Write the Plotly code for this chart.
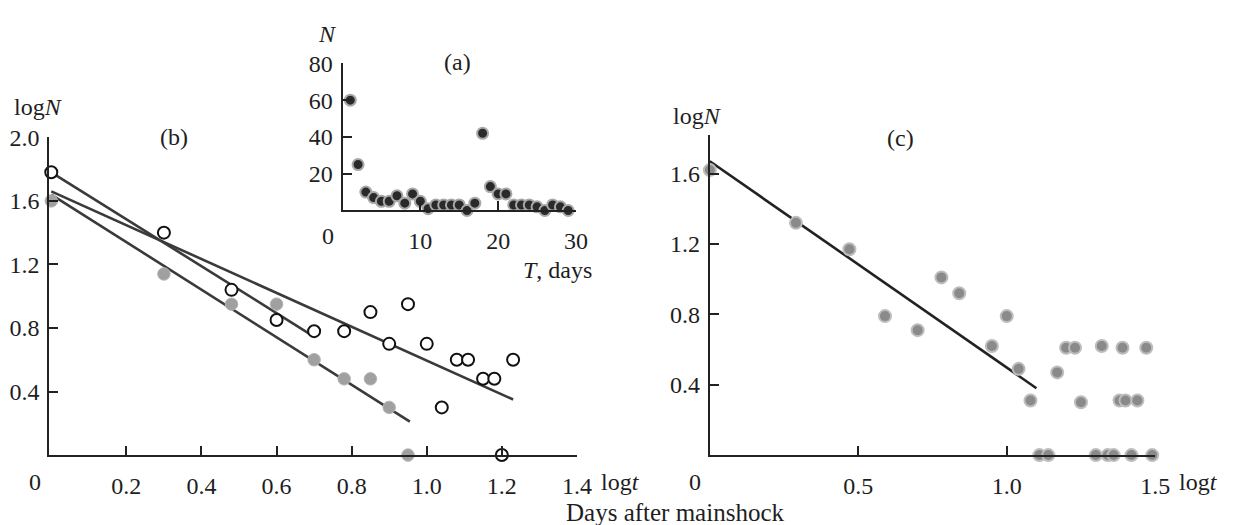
import plotly.graph_objects as go

W, H = 1243, 525
FONT = "Liberation Serif"
TXT = "#1e1e1e"
FS = 24

# ---------------- data ----------------
# panel (b): log t vs log N
b_open_logt = [0.0, 0.30, 0.48, 0.60, 0.70, 0.78, 0.85, 0.90, 0.95, 1.00, 1.04, 1.08, 1.11, 1.15, 1.18, 1.20, 1.23]
b_open_logN = [1.78, 1.40, 1.04, 0.85, 0.78, 0.78, 0.90, 0.70, 0.95, 0.70, 0.30, 0.60, 0.60, 0.48, 0.48, 0.0, 0.60]
b_gray_logt = [0.0, 0.30, 0.48, 0.60, 0.70, 0.78, 0.85, 0.90, 0.95]
b_gray_logN = [1.60, 1.14, 0.95, 0.95, 0.60, 0.48, 0.48, 0.30, 0.0]
b_fit_all_x = [0.0, 1.23]
b_fit_all_y = [1.66, 0.35]
b_fit_open_x = [0.0, 0.69]
b_fit_open_y = [1.78, 0.76]
b_fit_gray_x = [0.0, 0.955]
b_fit_gray_y = [1.64, 0.21]
b_xticks = [0.2, 0.4, 0.6, 0.8, 1.0, 1.2, 1.4]
b_xlabels = ["0.2", "0.4", "0.6", "0.8", "1.0", "1.2", "1.4"]
b_yticks = [0.4, 0.8, 1.2, 1.6, 2.0]
b_ylabels = ["0.4", "0.8", "1.2", "1.6", "2.0"]

# panel (a) inset: days vs N
a_T = list(range(1, 30))
a_N = [60, 25, 10, 7, 5, 5, 8, 4, 9, 5, 1, 3, 3, 3, 3, 0, 4, 42, 13, 9, 9, 3, 3, 3, 2, 0, 3, 2, 0]
a_xticks = [10, 20, 30]
a_xlabels = ["10", "20", "30"]
a_yticks = [20, 40, 60, 80]
a_ylabels = ["20", "40", "60", "80"]

# panel (c)
c_logt = [0.0, 0.29, 0.47, 0.59, 0.70, 0.78, 0.84, 0.95, 1.00, 1.04, 1.08, 1.11, 1.14, 1.17,
          1.20, 1.23, 1.25, 1.30, 1.32, 1.34, 1.36, 1.38, 1.39, 1.40, 1.42, 1.44, 1.47, 1.49]
c_logN = [1.62, 1.32, 1.17, 0.79, 0.71, 1.01, 0.92, 0.62, 0.79, 0.49, 0.31, 0.0, 0.0, 0.47,
          0.61, 0.61, 0.30, 0.0, 0.62, 0.0, 0.0, 0.31, 0.61, 0.31, 0.0, 0.31, 0.61, 0.0]
c_fit_x = [0.0, 1.10]
c_fit_y = [1.67, 0.38]
c_xticks = [0.5, 1.0, 1.5]
c_xlabels = ["0.5", "1.0", "1.5"]
c_yticks = [0.4, 0.8, 1.2, 1.6]
c_ylabels = ["0.4", "0.8", "1.2", "1.6"]


def px(x):
    return x / W


def py(y):
    return 1 - y / H


fig = go.Figure()

LINE_C = "#3a3a3a"
# panel (b)
for fx, fy in [(b_fit_all_x, b_fit_all_y), (b_fit_open_x, b_fit_open_y), (b_fit_gray_x, b_fit_gray_y)]:
    fig.add_trace(go.Scatter(x=fx, y=fy, mode="lines", line=dict(color=LINE_C, width=2.6),
                             xaxis="x", yaxis="y", cliponaxis=False, showlegend=False))
fig.add_trace(go.Scatter(x=b_gray_logt, y=b_gray_logN, mode="markers",
                         marker=dict(color="#a0a0a0", size=12.5, line=dict(color="#b5b5b5", width=1)),
                         xaxis="x", yaxis="y", cliponaxis=False, showlegend=False))
fig.add_trace(go.Scatter(x=b_open_logt, y=b_open_logN, mode="markers",
                         marker=dict(color="white", size=12, line=dict(color="#111111", width=2)),
                         xaxis="x", yaxis="y", cliponaxis=False, showlegend=False))

# panel (c)
fig.add_trace(go.Scatter(x=c_fit_x, y=c_fit_y, mode="lines", line=dict(color="#222222", width=2.6),
                         xaxis="x3", yaxis="y3", cliponaxis=False, showlegend=False))
fig.add_trace(go.Scatter(x=c_logt, y=c_logN, mode="markers",
                         marker=dict(color="#8a8a8a", size=12, line=dict(color="#bdbdbd", width=2)),
                         xaxis="x3", yaxis="y3", cliponaxis=False, showlegend=False))

# inset (a)
fig.add_trace(go.Scatter(x=a_T, y=a_N, mode="markers",
                         marker=dict(color="#2a2a2a", size=11, line=dict(color="#a8a8a8", width=2)),
                         xaxis="x2", yaxis="y2", cliponaxis=False, showlegend=False))

fig.update_layout(
    width=W, height=H,
    margin=dict(l=0, r=0, t=0, b=0),
    paper_bgcolor="white", plot_bgcolor="rgba(0,0,0,0)",
    font=dict(family=FONT, size=FS, color=TXT),
    showlegend=False,
    xaxis=dict(domain=[px(50), px(584)], range=[-0.005, 1.4], anchor="y",
               tickvals=b_xticks, ticktext=b_xlabels),
    yaxis=dict(domain=[py(453.3), py(127.5)], range=[0, 2.0], anchor="x",
               tickvals=b_yticks, ticktext=b_ylabels),
    xaxis2=dict(domain=[px(346.7), px(583)], range=[0, 30], anchor="y2",
                tickvals=a_xticks, ticktext=a_xlabels),
    yaxis2=dict(domain=[py(202.5), py(51.7)], range=[0, 80], anchor="x2",
                tickvals=a_yticks, ticktext=a_ylabels),
    xaxis3=dict(domain=[px(718.5), px(1169.3)], range=[0, 1.5], anchor="y3",
                tickvals=c_xticks, ticktext=c_xlabels),
    yaxis3=dict(domain=[py(453.3), py(125)], range=[0, 1.82], anchor="x3",
                tickvals=c_yticks, ticktext=c_ylabels),
)
common = dict(showgrid=False, zeroline=False, showline=True, linecolor="#222222", linewidth=2,
              ticks="inside", ticklen=9, tickwidth=1.6, tickcolor="#222222",
              tickfont=dict(family=FONT, size=FS, color=TXT), fixedrange=True)
fig.update_xaxes(**common)
fig.update_yaxes(**common)
fig.update_xaxes(ticklabelstandoff=8)
fig.update_yaxes(ticklabelstandoff=3)


def ann(text, x, y, xanchor="center", size=FS):
    fig.add_annotation(text=text, x=px(x), y=py(y), xref="paper", yref="paper",
                       xanchor=xanchor, yanchor="middle", showarrow=False,
                       font=dict(family=FONT, size=size, color=TXT))


ann("log<i>N</i>", 39, 96)
ann("(b)", 176, 127)
ann("0", 35, 481)
ann("log<i>t</i>", 606, 481, xanchor="left")
ann("<i>N</i>", 332, 22)
ann("(a)", 463, 50)
ann("0", 332, 229)
ann("<i>T</i>, days", 527, 264, xanchor="left")
ann("log<i>N</i>", 706, 106)
ann("(c)", 912, 128)
ann("0", 703, 481)
ann("log<i>t</i>", 1191, 481, xanchor="left")
ann("Days after mainshock", 683, 512, size=25)

fig.write_html("out.html")
